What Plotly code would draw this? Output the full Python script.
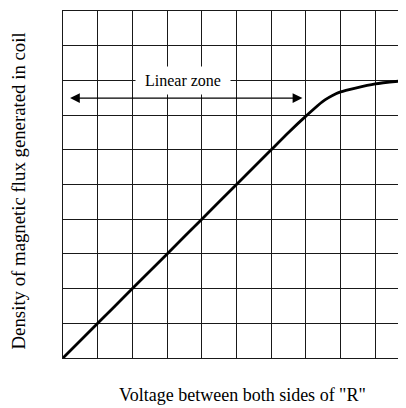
import plotly.graph_objects as go

# Curve data (grid units)
volt = [0, 1, 2, 3, 4, 5, 6, 6.5, 7.0, 7.48, 7.88, 8.0, 8.43, 9.0, 9.89]
flux = [0, 1, 2, 3, 4, 5, 6, 6.5, 6.97, 7.39, 7.62, 7.67, 7.78, 7.9, 8.0]

x_title = 'Voltage between both sides of "R"'
y_title = "Density of magnetic flux generated in coil"
zone_label = "Linear zone"
zone_start, zone_end, zone_y = 0.16, 6.9, 7.49
label_x, label_y = 3.47, 8.0

FONT = "Liberation Serif"
GRID = "rgb(25,25,25)"

fig = go.Figure()
fig.add_trace(go.Scatter(x=volt, y=flux, mode="lines",
                         line=dict(color="black", width=2.8, shape="spline", smoothing=0.6),
                         hoverinfo="skip", showlegend=False))

fig.add_annotation(x=zone_end, y=zone_y, ax=zone_start, ay=zone_y,
                   xref="x", yref="y", axref="x", ayref="y",
                   text="", showarrow=True, arrowside="start+end",
                   arrowhead=2, startarrowhead=2, arrowsize=1.45, startarrowsize=1.45,
                   arrowwidth=1.35, arrowcolor="black", standoff=0, startstandoff=0)

fig.add_annotation(x=label_x, y=label_y, xref="x", yref="y", text=zone_label,
                   showarrow=False, bgcolor="white", width=92, height=25,
                   font=dict(family=FONT, size=16, color="black"))

fig.add_annotation(x=0.522, y=0, xref="paper", yref="paper", yshift=-37,
                   text=x_title, showarrow=False, xanchor="center", yanchor="middle",
                   font=dict(family=FONT, size=18, color="black"))
fig.add_annotation(x=0, y=0.48, xref="paper", yref="paper", xshift=-45,
                   text=y_title, showarrow=False, textangle=-90,
                   xanchor="center", yanchor="middle",
                   font=dict(family=FONT, size=18.8, color="black"))

fig.update_xaxes(range=[0, 9.885], dtick=1, tick0=0, showgrid=True, gridcolor=GRID, gridwidth=1,
                 showticklabels=False, ticks="", zeroline=False,
                 showline=True, linecolor=GRID, linewidth=1, mirror=True, fixedrange=True)
fig.update_yaxes(range=[0, 10], dtick=1, tick0=0, showgrid=True, gridcolor=GRID, gridwidth=1,
                 showticklabels=False, ticks="", zeroline=False,
                 showline=True, linecolor=GRID, linewidth=1, mirror=False, fixedrange=True)

# page body has an 8px default margin, so the figure is offset by 8px
fig.update_layout(width=398, height=400, margin=dict(l=55, r=0, t=3, b=50),
                  paper_bgcolor="white", plot_bgcolor="white", showlegend=False,
                  font=dict(family=FONT))

fig.write_html("out.html", config={"displayModeBar": False})
